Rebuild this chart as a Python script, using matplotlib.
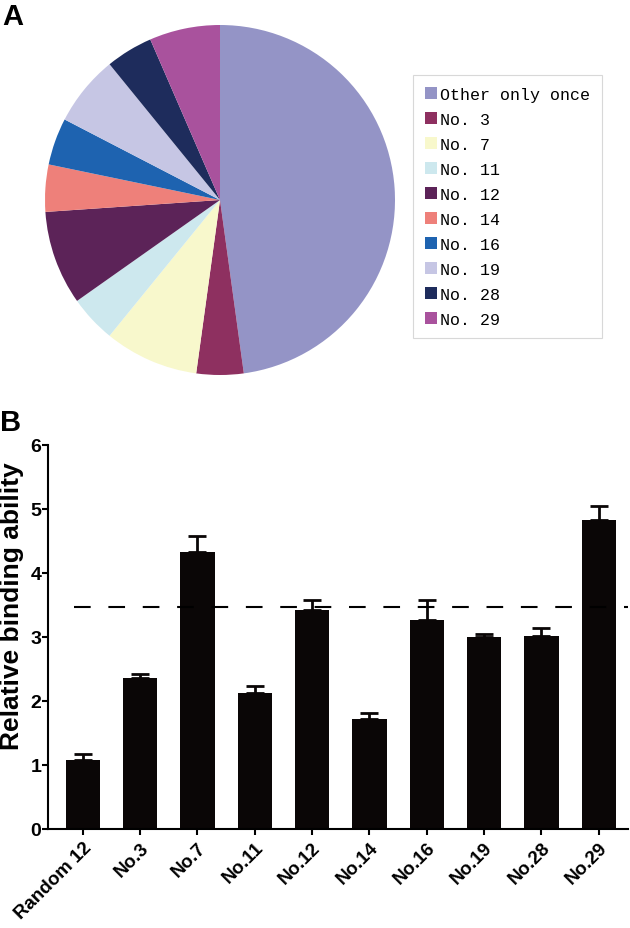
import matplotlib

matplotlib.use("Agg")

import matplotlib.pyplot as plt
import numpy as np

# Panel A: pie counts
pie_labels = ["Other only once", "No. 3", "No. 7", "No. 11", "No. 12",
              "No. 14", "No. 16", "No. 19", "No. 28", "No. 29"]
pie_counts = [22, 2, 4, 2, 4, 2, 2, 3, 2, 3]
pie_colors = ["#9494c6", "#8e3060", "#f8f8cc", "#cde8ee", "#5c2358",
              "#ee807a", "#1e63b0", "#c6c6e4", "#1e2c5c", "#a9529d"]

# Panel B: bars
bar_labels = ["Random 12", "No.3", "No.7", "No.11", "No.12",
              "No.14", "No.16", "No.19", "No.28", "No.29"]
bar_values = [1.07, 2.36, 4.32, 2.12, 3.42, 1.72, 3.27, 2.99, 3.02, 4.83]
bar_errors = [0.10, 0.06, 0.25, 0.11, 0.16, 0.09, 0.31, 0.05, 0.12, 0.21]
threshold = 3.47

W, H = 630, 929
fig = plt.figure(figsize=(W / 100, H / 100), dpi=100)

# ---- A: pie ----
axA = fig.add_axes([45 / W, 1 - 376 / H, 350 / W, 350 / H])
wedges, _ = axA.pie(pie_counts, colors=pie_colors, startangle=90,
                    counterclock=False, radius=1.0,
                    wedgeprops=dict(linewidth=0))
axA.set_xlim(-1.0, 1.0)
axA.set_ylim(-1.0, 1.0)
axA.set_aspect("equal")

leg = fig.legend(wedges, pie_labels, loc="upper left",
                 bbox_to_anchor=(413 / W, 1 - 76 / H),
                 frameon=True, fancybox=False, edgecolor="#cfcfcf",
                 prop=dict(family="Liberation Mono", size=12),
                 handlelength=0.75, handleheight=0.75, handletextpad=0.2,
                 labelspacing=0.6, borderpad=0.7, borderaxespad=0)
leg.get_frame().set_linewidth(0.8)

fig.text(2 / W, 1 - 17 / H, "A", fontsize=21, weight="bold",
         family="Liberation Sans", va="center", ha="left")

# ---- B: bars ----
axB = fig.add_axes([48.3 / W, 1 - 830 / H, (628 - 48.3) / W, (830 - 445.7) / H])
x = np.arange(len(bar_labels))
axB.bar(x, bar_values, width=0.6, color="#0a0606", edgecolor="none", zorder=2)
axB.errorbar(x, bar_values, yerr=[np.zeros(len(bar_errors)), bar_errors],
             fmt="none", ecolor="#0a0606", elinewidth=2.0, capsize=6.5,
             capthick=2.0, zorder=2)
axB.hlines(threshold, -0.15, 9.51, color="black", lw=1.5,
           linestyles=(0, (8, 8.5)), zorder=3)

axB.set_xlim(-0.6, 9.51)
axB.set_ylim(0, 6)
axB.set_yticks(range(0, 7))
axB.set_xticks(x)
axB.set_xticklabels(bar_labels, rotation=45, ha="right",
                    rotation_mode="anchor")
for spine in ["top", "right"]:
    axB.spines[spine].set_visible(False)
for spine in ["left", "bottom"]:
    axB.spines[spine].set_linewidth(1.5)
axB.tick_params(axis="both", width=1.5, length=4)
axB.tick_params(axis="y", labelsize=14, pad=1)
axB.tick_params(axis="x", labelsize=13.5, pad=3)
for lab in axB.get_xticklabels() + axB.get_yticklabels():
    lab.set_fontweight("bold")
    lab.set_family("Liberation Sans")

fig.text(12 / W, 1 - 606 / H, "Relative binding ability", rotation=90,
         fontsize=19, weight="bold", family="Liberation Sans",
         va="center", ha="center")
fig.text(0 / W, 1 - 423.5 / H, "B", fontsize=21, weight="bold",
         family="Liberation Sans", va="center", ha="left")

fig.savefig("out.png", dpi=100)
